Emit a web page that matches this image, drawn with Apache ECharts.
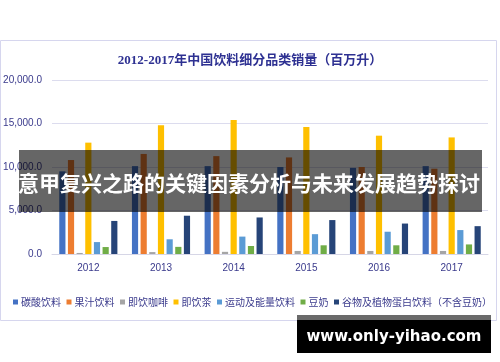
<!DOCTYPE html>
<html><head><meta charset="utf-8">
<script src="https://cdn.jsdelivr.net/npm/echarts@6/dist/echarts.min.js"></script>
<style>html,body{margin:0;padding:0;background:#fff;}#c{width:500px;height:362px;}</style>
</head><body><div id="c"></div>
<script>
const categories = ['2012','2013','2014','2015','2016','2017'];
const seriesNames = ['碳酸饮料','果汁饮料','即饮咖啡','即饮茶','运动及能量饮料','豆奶','谷物及植物蛋白饮料（不含豆奶）'];
const carbonated = [9500, 10100, 10100, 10000, 9900, 10100];
const juice      = [10800, 11500, 11250, 11100, 10000, 9800];
const coffee     = [120, 220, 250, 350, 350, 350];
const tea        = [12800, 14800, 15400, 14600, 13600, 13400];
const sports     = [1370, 1690, 2000, 2280, 2560, 2750];
const soy        = [800, 820, 920, 1000, 1000, 1100];
const grain      = [3800, 4400, 4200, 3900, 3500, 3200];
const yTicks = [0, 5000, 10000, 15000, 20000];
const colors = ['#4472C4','#ED7D31','#A5A5A5','#FFC000','#5B9BD5','#70AD47','#264478'];
const values = [carbonated, juice, coffee, tea, sports, soy, grain];

const chart = echarts.init(document.getElementById('c'), null, {renderer:'canvas'});
const txt = '#3A3A8C';
chart.setOption({
  animation:false,
  color: colors,
  title:{
    text:'2012-2017年中国饮料细分品类销量（百万升）',
    left:'center', top:49,
    textStyle:{fontSize:13, fontWeight:'bold', color:'#2E3192', fontFamily:'Liberation Serif, Noto Sans CJK SC'}
  },
  legend:{
    data: seriesNames, left:8, top:292, itemWidth:5, itemHeight:5, itemGap:5.5,
    icon:'rect',
    textStyle:{fontSize:10, color:txt, fontFamily:'Noto Sans CJK SC', padding:[0,0,0,-2]}
  },
  grid:{left:52, right:12, top:80, bottom:108, containLabel:false},
  xAxis:{
    type:'category', data: categories,
    axisTick:{show:false},
    axisLine:{lineStyle:{color:'#D6D6E6'}},
    axisLabel:{color:txt, fontSize:10, margin:9, fontFamily:'Liberation Sans'}
  },
  yAxis:{
    type:'value', min:yTicks[0], max:yTicks[yTicks.length-1], interval:5000,
    axisLine:{show:false}, axisTick:{show:false},
    splitLine:{lineStyle:{color:'#DCDCEE'}},
    axisLabel:{color:txt, fontSize:10, margin:10, fontFamily:'Liberation Sans',
      formatter: v => v.toLocaleString('en-US') + '.0'}
  },
  series: seriesNames.map((n,i)=>({
    name:n, type:'bar', data: values[i],
    barCategoryGap:'20%', barGap:'40%'
  })),
  graphic:[
    {type:'rect', shape:{x:0.5,y:40.5,width:496,height:280}, style:{fill:'none', stroke:'#D6D6EE', lineWidth:1}, z:1, silent:true},
    {type:'rect', shape:{x:19,y:150,width:463,height:62}, style:{fill:'rgba(0,0,0,0.6)'}, z:100},
    {type:'text', x:249, y:183, style:{text:'意甲复兴之路的关键因素分析与未来发展趋势探讨', fill:'#fff', font:'bold 21px "Noto Sans CJK SC"', textAlign:'center', textVerticalAlign:'middle'}, z:101},
    {type:'rect', shape:{x:297,y:315,width:194,height:5}, style:{fill:'#6a6a6a'}, z:100},
    {type:'rect', shape:{x:297,y:320,width:194,height:33}, style:{fill:'#000'}, z:100},
    {type:'text', x:394, y:337, style:{text:'www.only-yihao.com', fill:'#fff', font:'bold 15px "DejaVu Sans"', textAlign:'center', textVerticalAlign:'middle'}, z:101}
  ]
});
</script></body></html>
